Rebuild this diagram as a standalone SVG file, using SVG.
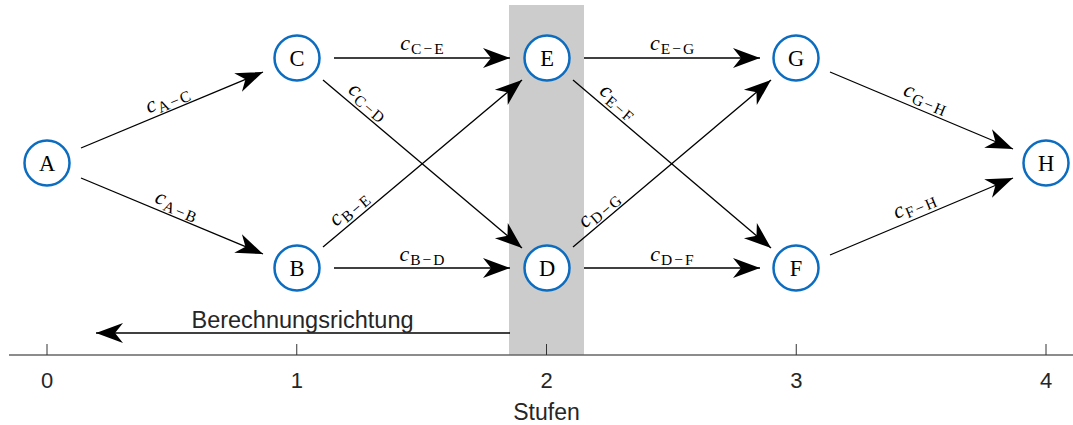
<svg xmlns="http://www.w3.org/2000/svg" width="1073" height="425" viewBox="0 0 1073 425">
  <style>
    .node circle { fill: #ffffff; stroke: #0b6cc0; stroke-width: 2.5; }
    .node text { font-family: "Liberation Serif", "Times New Roman", serif; font-size: 22.5px; text-anchor: middle; fill: #000; }
    .edge { stroke: #000; stroke-width: 1.3; fill: none; marker-end: url(#head); }
    .lbl { font-family: "Liberation Serif", "Times New Roman", serif; text-anchor: middle; fill: #000; }
    .lbl .c { font-style: italic; font-size: 22px; }
    .lbl .s { font-size: 15.5px; }
    .axis { stroke: #666666; stroke-width: 1.7; }
    .tick { stroke: #333333; stroke-width: 1; }
    .ax { font-family: "Liberation Sans", Arial, sans-serif; font-size: 22px; fill: #262626; text-anchor: middle; }
  </style>
  <defs>
    <marker id="head" markerUnits="userSpaceOnUse" markerWidth="30" markerHeight="24" viewBox="-28 -11 30 22" refX="0" refY="0" orient="auto">
      <path d="M0,0 L-27,-10 L-19,0 L-27,10 Z" fill="#000"/>
    </marker>
  </defs>

  <!-- highlighted stage -->
  <rect x="509" y="5" width="75" height="350" fill="#cccccc"/>

  <!-- stage axis -->
  <g id="axis">
    <line class="axis" x1="9" y1="355" x2="1073" y2="355"/>
    <line class="tick" x1="47" y1="344" x2="47" y2="355"/>
    <line class="tick" x1="296.75" y1="344" x2="296.75" y2="355"/>
    <line class="tick" x1="546.5" y1="344" x2="546.5" y2="355"/>
    <line class="tick" x1="796.25" y1="344" x2="796.25" y2="355"/>
    <line class="tick" x1="1046" y1="344" x2="1046" y2="355"/>
    <text class="ax" x="47" y="388">0</text>
    <text class="ax" x="296.75" y="388">1</text>
    <text class="ax" x="546.5" y="388">2</text>
    <text class="ax" x="796.25" y="388">3</text>
    <text class="ax" x="1046" y="388">4</text>
    <text class="ax" x="546.5" y="420" style="font-size:23px">Stufen</text>
  </g>

  <!-- direction of computation -->
  <g id="direction">
    <line class="edge" x1="510" y1="333" x2="96" y2="333"/>
    <text class="ax" x="302.5" y="328" style="font-size:23.5px">Berechnungsrichtung</text>
  </g>

  <!-- connectors -->
  <g id="connectors">
    <line class="edge" x1="81" y1="148" x2="263" y2="72"/>
    <line class="edge" x1="81" y1="178" x2="263" y2="254"/>
    <line class="edge" x1="334" y1="58" x2="510" y2="58"/>
    <line class="edge" x1="334" y1="268" x2="510" y2="268"/>
    <line class="edge" x1="323" y1="80" x2="522" y2="248"/>
    <line class="edge" x1="323" y1="247" x2="522" y2="80"/>
    <line class="edge" x1="584" y1="58" x2="760" y2="58"/>
    <line class="edge" x1="584" y1="268" x2="760" y2="268"/>
    <line class="edge" x1="573" y1="80" x2="771" y2="248"/>
    <line class="edge" x1="573" y1="247" x2="771" y2="80"/>
    <line class="edge" x1="830" y1="72" x2="1013" y2="149"/>
    <line class="edge" x1="830" y1="255" x2="1013" y2="178"/>

    <!-- edge costs -->
    <text class="lbl" transform="translate(168,101) rotate(-22.7)"><tspan class="c" y="4">c</tspan><tspan class="s" dx="1" dy="4">A</tspan><tspan class="s" dx="2">−</tspan><tspan class="s" dx="2">C</tspan></text>
    <text class="lbl" transform="translate(176,207) rotate(22.7)"><tspan class="c" y="4">c</tspan><tspan class="s" dx="1" dy="4">A</tspan><tspan class="s" dx="2">−</tspan><tspan class="s" dx="2">B</tspan></text>
    <text class="lbl" transform="translate(422,46)"><tspan class="c" y="4">c</tspan><tspan class="s" dx="1" dy="4">C</tspan><tspan class="s" dx="2">−</tspan><tspan class="s" dx="2">E</tspan></text>
    <text class="lbl" transform="translate(422,257)"><tspan class="c" y="4">c</tspan><tspan class="s" dx="1" dy="4">B</tspan><tspan class="s" dx="2">−</tspan><tspan class="s" dx="2">D</tspan></text>
    <text class="lbl" transform="translate(367,103) rotate(40.2)"><tspan class="c" y="4">c</tspan><tspan class="s" dx="1" dy="4">C</tspan><tspan class="s" dx="2">−</tspan><tspan class="s" dx="2">D</tspan></text>
    <text class="lbl" transform="translate(350,210) rotate(-40.2)"><tspan class="c" y="4">c</tspan><tspan class="s" dx="1" dy="4">B</tspan><tspan class="s" dx="2">−</tspan><tspan class="s" dx="2">E</tspan></text>
    <text class="lbl" transform="translate(672,46)"><tspan class="c" y="4">c</tspan><tspan class="s" dx="1" dy="4">E</tspan><tspan class="s" dx="2">−</tspan><tspan class="s" dx="2">G</tspan></text>
    <text class="lbl" transform="translate(672,257)"><tspan class="c" y="4">c</tspan><tspan class="s" dx="1" dy="4">D</tspan><tspan class="s" dx="2">−</tspan><tspan class="s" dx="2">F</tspan></text>
    <text class="lbl" transform="translate(617,103) rotate(40.2)"><tspan class="c" y="4">c</tspan><tspan class="s" dx="1" dy="4">E</tspan><tspan class="s" dx="2">−</tspan><tspan class="s" dx="2">F</tspan></text>
    <text class="lbl" transform="translate(600,211) rotate(-40.2)"><tspan class="c" y="4">c</tspan><tspan class="s" dx="1" dy="4">D</tspan><tspan class="s" dx="2">−</tspan><tspan class="s" dx="2">G</tspan></text>
    <text class="lbl" transform="translate(925,100) rotate(22.7)"><tspan class="c" y="4">c</tspan><tspan class="s" dx="1" dy="4">G</tspan><tspan class="s" dx="2">−</tspan><tspan class="s" dx="2">H</tspan></text>
    <text class="lbl" transform="translate(915,207) rotate(-22.7)"><tspan class="c" y="4">c</tspan><tspan class="s" dx="1" dy="4">F</tspan><tspan class="s" dx="2">−</tspan><tspan class="s" dx="2">H</tspan></text>
  </g>

  <!-- nodes -->
  <g id="node-A" class="node"><circle cx="47" cy="163" r="22.5"/><text x="47" y="170.5">A</text></g>
  <g id="node-C" class="node"><circle cx="297" cy="58" r="22.5"/><text x="297" y="65.5">C</text></g>
  <g id="node-B" class="node"><circle cx="297" cy="268" r="22.5"/><text x="297" y="275.5">B</text></g>
  <g id="node-E" class="node"><circle cx="547" cy="58" r="22.5"/><text x="547" y="65.5">E</text></g>
  <g id="node-D" class="node"><circle cx="547" cy="268" r="22.5"/><text x="547" y="275.5">D</text></g>
  <g id="node-G" class="node"><circle cx="796" cy="58" r="22.5"/><text x="796" y="65.5">G</text></g>
  <g id="node-F" class="node"><circle cx="796" cy="268" r="22.5"/><text x="796" y="275.5">F</text></g>
  <g id="node-H" class="node"><circle cx="1046" cy="163" r="22.5"/><text x="1046" y="170.5">H</text></g>
</svg>
